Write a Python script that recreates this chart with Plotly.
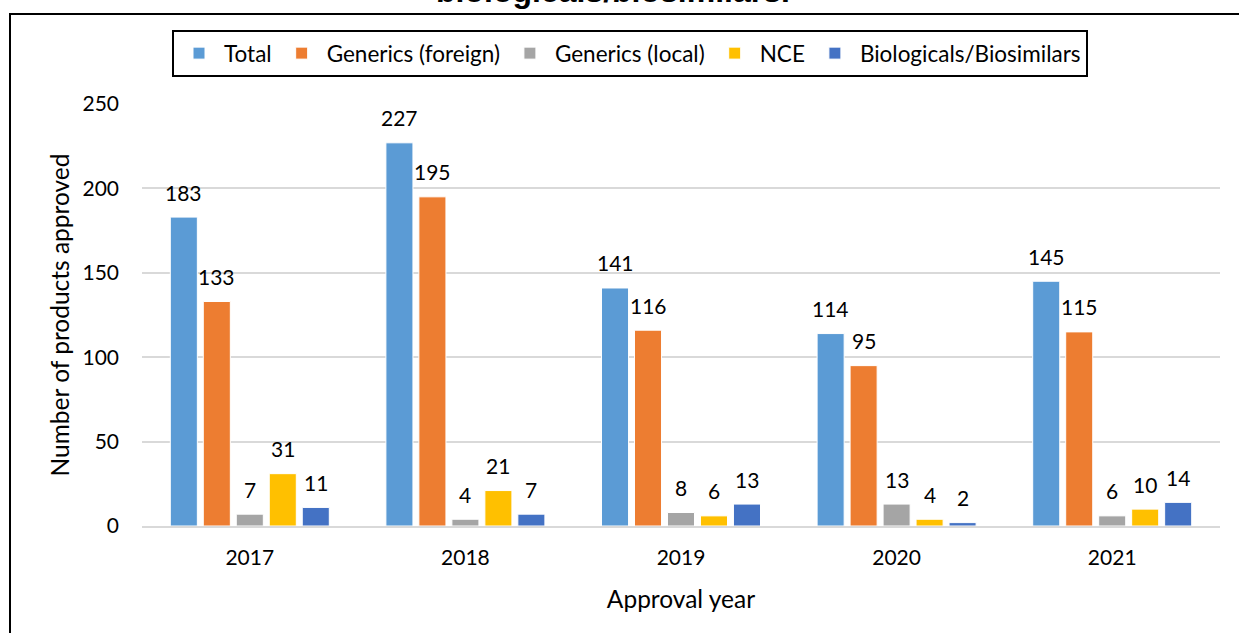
import plotly.graph_objects as go

years = ["2017", "2018", "2019", "2020", "2021"]
total = [183, 227, 141, 114, 145]
generics_foreign = [133, 195, 116, 95, 115]
generics_local = [7, 4, 8, 13, 6]
nce = [31, 21, 6, 4, 10]
bio = [11, 7, 13, 2, 14]

series = [
    ("Total", total, "#5B9BD5"),
    ("Generics (foreign)", generics_foreign, "#ED7D31"),
    ("Generics (local)", generics_local, "#A5A5A5"),
    ("NCE", nce, "#FFC000"),
    ("Biologicals/Biosimilars", bio, "#4472C4"),
]

FONT = "Lato"
W, H = 1239, 633
ML, MR, MT, MB = 142, 19, 104, 107
PW, PH = W - ML - MR, H - MT - MB
BARGAP = 0.235
SLOT = PW / len(years) * (1 - BARGAP) / len(series)

fig = go.Figure()
annotations = []
for j, (name, vals, color) in enumerate(series):
    fig.add_trace(go.Bar(
        x=years, y=vals, name=name,
        marker=dict(color=color, line=dict(color="white", width=1)),
        cliponaxis=False,
    ))
    shift = (j - (len(series) - 1) / 2) * SLOT
    for i, v in enumerate(vals):
        # category axis: annotation x is the category's serial index
        annotations.append(dict(
            x=i, y=v, xref="x", yref="y", text=str(v), showarrow=False,
            xanchor="center", yanchor="middle", xshift=shift, yshift=25,
            font=dict(family=FONT, size=21, color="black"),
        ))

def px_x(p):
    return (p - ML) / PW

def px_y(p):
    return 1 - (p - MT) / PH

annotations.append(dict(
    text="<b>biologicals/biosimilars.</b>", xref="paper", yref="paper",
    x=px_x(613), y=px_y(-9), xanchor="center", yanchor="middle",
    showarrow=False, font=dict(family="Liberation Sans", size=32, color="black"),
))

fig.update_layout(
    width=W, height=H,
    margin=dict(l=ML, r=MR, t=MT, b=MB),
    paper_bgcolor="white", plot_bgcolor="white",
    barmode="group", bargap=BARGAP, bargroupgap=0.18,
    font=dict(family=FONT, size=21, color="black"),
    showlegend=True,
    legend=dict(
        orientation="h", xref="container", yref="container",
        x=630 / W, xanchor="center", y=1 - 30 / H, yanchor="top",
        bordercolor="black", borderwidth=2, bgcolor="white",
        font=dict(family=FONT, size=22.5, color="black"),
        itemwidth=40, traceorder="normal",
    ),
    xaxis=dict(
        type="category", categoryorder="array", categoryarray=years,
        range=[-0.5, len(years) - 0.5],
        showgrid=False, showline=True, linecolor="#D9D9D9", linewidth=1.5,
        ticks="", tickfont=dict(family=FONT, size=21),
        ticklabelstandoff=12,
        title=dict(text="Approval year", font=dict(family=FONT, size=24.5), standoff=23),
    ),
    yaxis=dict(
        range=[0, 250], dtick=50, showgrid=True, gridcolor="#D9D9D9", gridwidth=1.5,
        zeroline=False, showline=False, ticks="",
        tickfont=dict(family=FONT, size=21), ticklabelstandoff=22,
        title=dict(text="Number of products approved", font=dict(family=FONT, size=24.5), standoff=5),
    ),
    shapes=[dict(
        type="rect", xref="paper", yref="paper",
        x0=px_x(10), x1=px_x(1260), y0=px_y(660), y1=px_y(14),
        line=dict(color="black", width=2), fillcolor="rgba(0,0,0,0)", layer="above",
    )],
    annotations=annotations,
)

fig.write_html(
    "out.html",
    config={"displayModeBar": False},
    post_script="document.body.style.margin='0';document.body.style.overflow='hidden';",
)
